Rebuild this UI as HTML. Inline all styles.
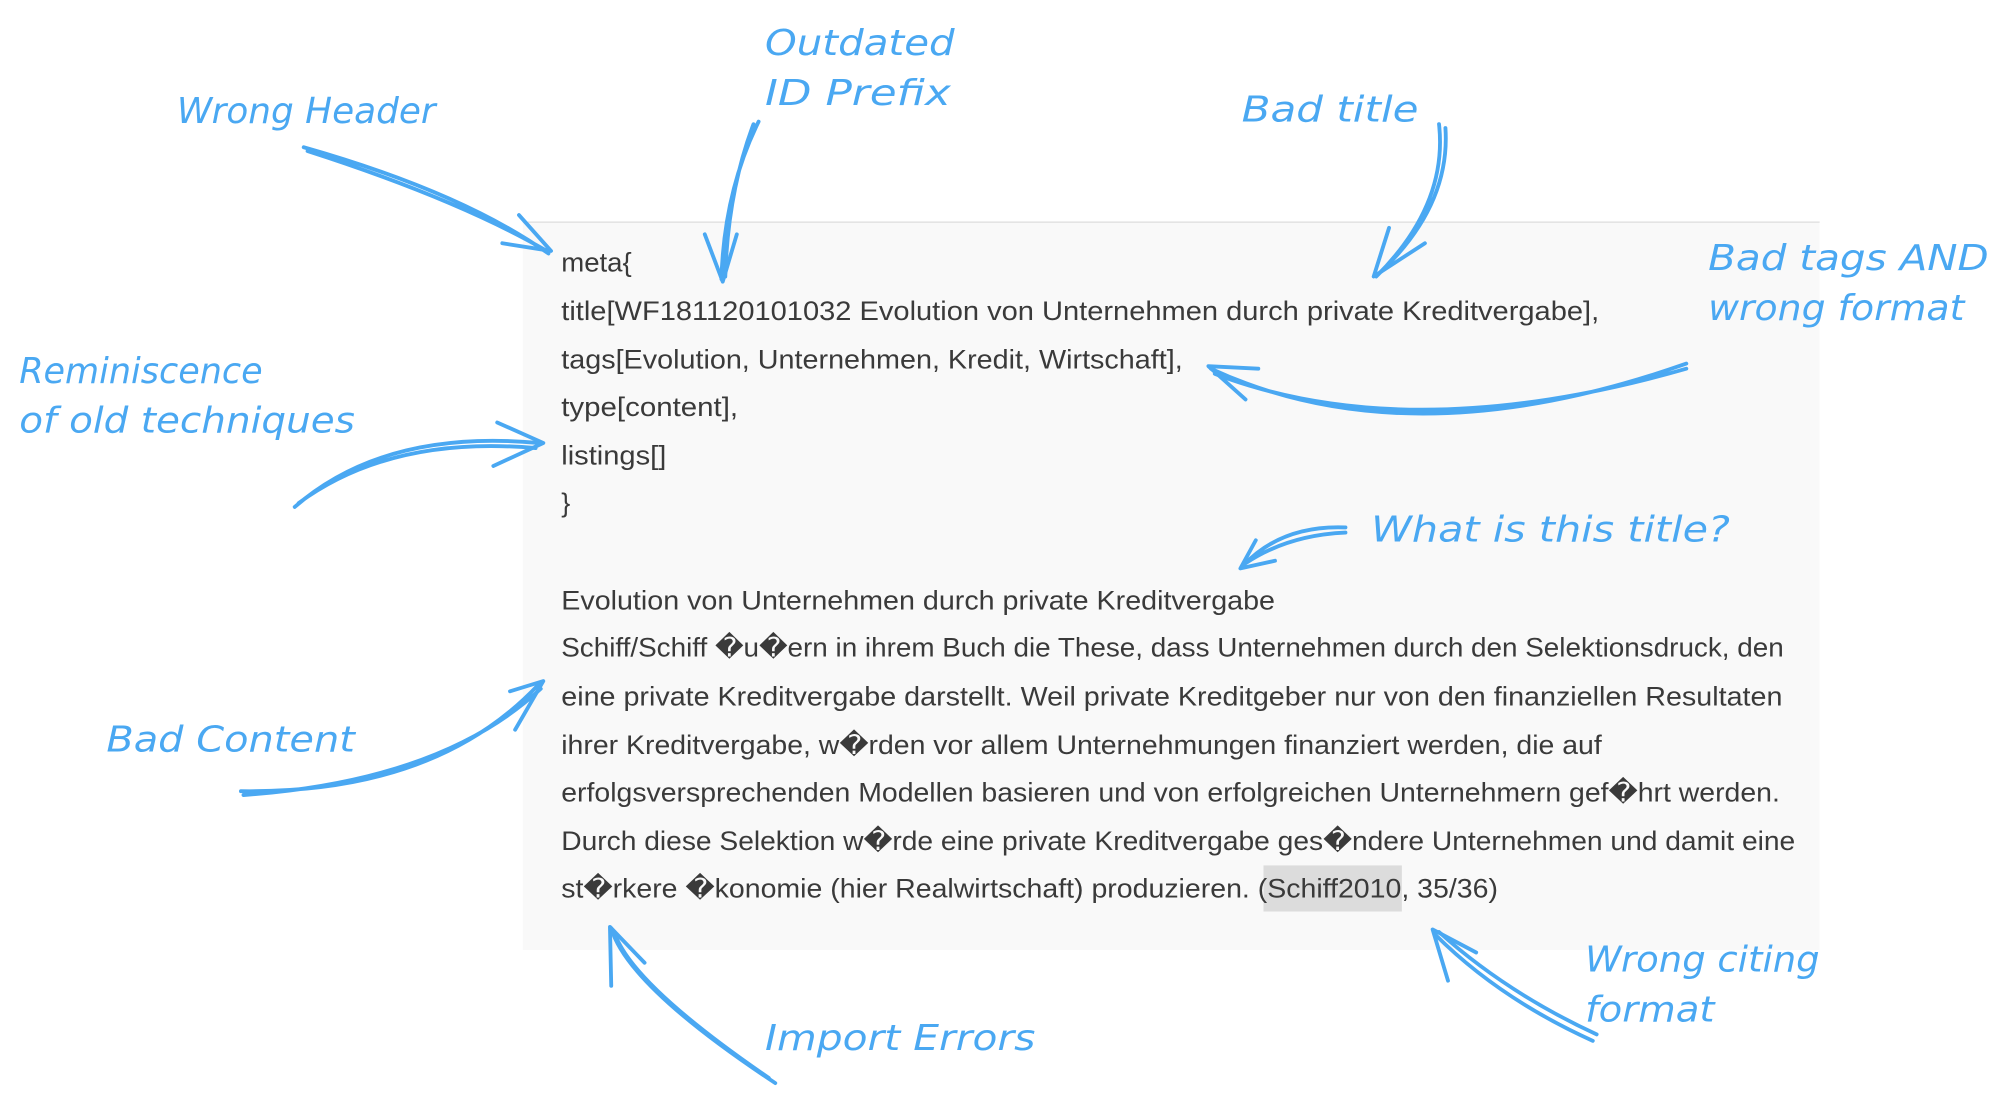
<!DOCTYPE html>
<html><head><meta charset="utf-8"><style>
html,body{margin:0;padding:0;background:#fff;}
svg{display:block}
.t{font-family:"Liberation Sans",sans-serif;font-size:21px;fill:#3a3a3a}
.h{font-family:"DejaVu Sans","Liberation Sans",sans-serif;font-size:28px;fill:#4aa8f2;font-style:italic}
.a{fill:none;stroke:#4aa8f2;stroke-width:3;stroke-linecap:round;stroke-linejoin:round}
</style></head><body>
<svg width="1999" height="1101" viewBox="0 0 1560 860" preserveAspectRatio="none" xmlns="http://www.w3.org/2000/svg">
<rect x="408" y="173" width="1012" height="569" fill="#f9f9f9"/>
<line x1="408" y1="173.5" x2="1420" y2="173.5" stroke="#ddd"/>
<rect x="986" y="676" width="108" height="36" fill="#dcdcdc"/>
<g class="t" lengthAdjust="spacingAndGlyphs">
<text x="438" y="212" textLength="55" lengthAdjust="spacingAndGlyphs">meta{</text>
<text x="438" y="250" textLength="810" lengthAdjust="spacingAndGlyphs">title[WF181120101032 Evolution von Unternehmen durch private Kreditvergabe],</text>
<text x="438" y="288" textLength="485" lengthAdjust="spacingAndGlyphs">tags[Evolution, Unternehmen, Kredit, Wirtschaft],</text>
<text x="438" y="325" textLength="138" lengthAdjust="spacingAndGlyphs">type[content],</text>
<text x="438" y="363" textLength="82" lengthAdjust="spacingAndGlyphs">listings[]</text>
<text x="438" y="400">}</text>
<text x="438" y="476" textLength="557" lengthAdjust="spacingAndGlyphs">Evolution von Unternehmen durch private Kreditvergabe</text>
<text x="438" y="513" textLength="954" lengthAdjust="spacingAndGlyphs">Schiff/Schiff �u�ern in ihrem Buch die These, dass Unternehmen durch den Selektionsdruck, den</text>
<text x="438" y="551" textLength="953" lengthAdjust="spacingAndGlyphs">eine private Kreditvergabe darstellt.  Weil private Kreditgeber nur von den finanziellen Resultaten</text>
<text x="438" y="589" textLength="812" lengthAdjust="spacingAndGlyphs">ihrer Kreditvergabe, w�rden vor allem Unternehmungen finanziert werden, die auf</text>
<text x="438" y="626" textLength="951" lengthAdjust="spacingAndGlyphs">erfolgsversprechenden Modellen basieren und von erfolgreichen Unternehmern gef�hrt werden.</text>
<text x="438" y="664" textLength="963" lengthAdjust="spacingAndGlyphs">Durch diese Selektion w�rde eine private Kreditvergabe ges�ndere Unternehmen und damit eine</text>
<text x="438" y="701" textLength="731" lengthAdjust="spacingAndGlyphs">st�rkere �konomie (hier Realwirtschaft) produzieren. (Schiff2010, 35/36)</text>
</g>
<g class="h">
<text x="138" y="96" textLength="202" lengthAdjust="spacingAndGlyphs">Wrong Header</text>
<text x="597" y="43" textLength="148" lengthAdjust="spacingAndGlyphs">Outdated</text>
<text x="597" y="82" textLength="145" lengthAdjust="spacingAndGlyphs">ID Prefix</text>
<text x="969" y="95" textLength="138" lengthAdjust="spacingAndGlyphs">Bad title</text>
<text x="1333" y="211" textLength="219" lengthAdjust="spacingAndGlyphs">Bad tags AND</text>
<text x="1333" y="250" textLength="200" lengthAdjust="spacingAndGlyphs">wrong format</text>
<text x="15" y="299" textLength="190" lengthAdjust="spacingAndGlyphs">Reminiscence</text>
<text x="15" y="338" textLength="262" lengthAdjust="spacingAndGlyphs">of old techniques</text>
<text x="1070" y="423" textLength="280" lengthAdjust="spacingAndGlyphs">What is this title?</text>
<text x="83" y="587" textLength="194" lengthAdjust="spacingAndGlyphs">Bad Content</text>
<text x="1237" y="759" textLength="183" lengthAdjust="spacingAndGlyphs">Wrong citing</text>
<text x="1237" y="798" textLength="101" lengthAdjust="spacingAndGlyphs">format</text>
<text x="597" y="820" textLength="211" lengthAdjust="spacingAndGlyphs">Import Errors</text>
</g>
<g class="a">
<path d="M237 115 Q360 150 428 198 M240 118 Q355 155 425 195"/>
<path d="M405 168 L430 196 L392 190"/>
<path d="M592 95 Q565 150 563 218 M588 97 Q568 150 566 216"/>
<path d="M550 183 L564 220 L575 183"/>
<path d="M1123 97 Q1130 160 1074 216 M1128 100 Q1132 160 1078 212"/>
<path d="M1084 178 L1072 216 L1112 190"/>
<path d="M1316 284 Q1100 360 945 288 M1316 288 Q1100 350 948 292"/>
<path d="M982 288 L943 286 L972 312"/>
<path d="M230 396 Q300 335 420 346 M233 393 Q305 340 418 350"/>
<path d="M388 330 L424 346 L385 364"/>
<path d="M1050 412 Q1000 410 970 442 M1050 416 Q1005 418 972 440"/>
<path d="M980 422 L968 444 L995 438"/>
<path d="M188 618 Q340 620 420 535 M190 621 Q345 610 422 538"/>
<path d="M398 540 L424 532 L402 570"/>
<path d="M605 846 Q490 770 477 725 M600 842 Q495 770 480 730"/>
<path d="M477 770 L476 724 L503 752"/>
<path d="M1243 813 Q1170 780 1120 730 M1246 808 Q1175 775 1123 728"/>
<path d="M1130 766 L1118 726 L1152 744"/>
</g>
</svg>
</body></html>
